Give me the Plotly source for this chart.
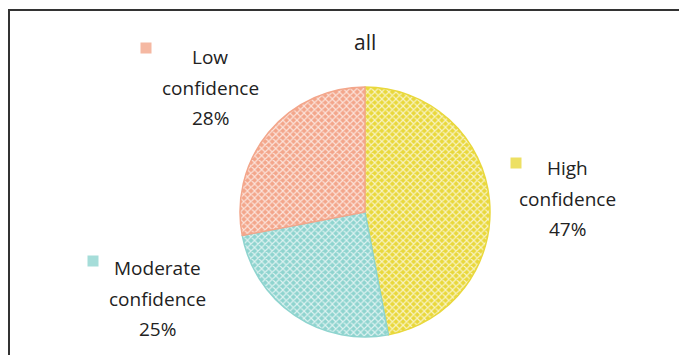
import plotly.graph_objects as go

categories = ["High confidence", "Moderate confidence", "Low confidence"]
values = [47, 25, 28]
colors = ["#E9D83C", "#8FD4CF", "#F3A68B"]
label_lines = [["High", "confidence", "47%"],
               ["Moderate", "confidence", "25%"],
               ["Low", "confidence", "28%"]]

W, H = 679, 355

fig = go.Figure(go.Pie(
    labels=categories,
    values=values,
    sort=False,
    direction="clockwise",
    rotation=0,
    textinfo="none",
    hoverinfo="label+percent",
    marker=dict(
        colors=colors,
        line=dict(color=colors, width=1.5),
        pattern=dict(shape="x", fillmode="overlay", fgcolor="white", fgopacity=0.7,
                     size=5, solidity=0.4),
    ),
    domain=dict(x=[240 / W, 490 / W], y=[1 - 337 / H, 1 - 87 / H]),
    showlegend=False,
))

# label placement (pixel anchor of each label block: center x, first line y, square x, square y)
label_pos = [(567, 168, 516, 163), (157, 268, 93, 261), (210, 57, 146, 48)]
annotations = []
shapes = []
for lines, (cx, y0, sx, sy), col in zip(label_lines, label_pos, colors):
    for i, t in enumerate(lines):
        annotations.append(dict(
            text=t, x=cx / W, y=1 - (y0 + i * 30.5) / H, xref="paper", yref="paper",
            showarrow=False, xanchor="center", yanchor="middle",
            font=dict(family="Open Sans", size=19, color="#222"),
        ))
    shapes.append(dict(type="rect", xref="paper", yref="paper",
                       x0=(sx - 5.5) / W, x1=(sx + 5.5) / W, y0=1 - (sy + 5.5) / H, y1=1 - (sy - 5.5) / H,
                       fillcolor=col, line=dict(width=0), opacity=0.8))

shapes.append(dict(type="rect", xref="paper", yref="paper",
                   x0=9 / W, x1=1.05, y0=-0.05, y1=1 - 10 / H,
                   line=dict(color="#333", width=2), fillcolor="rgba(0,0,0,0)"))

annotations.append(dict(text="all", x=365 / W, y=1 - 42 / H, xref="paper", yref="paper",
                        showarrow=False, xanchor="center", yanchor="middle",
                        font=dict(family="Open Sans", size=21, color="#222")))

fig.update_layout(
    width=W, height=H,
    margin=dict(l=0, r=0, t=0, b=0),
    paper_bgcolor="white", plot_bgcolor="white",
    annotations=annotations, shapes=shapes,
)

fig.write_html("out.html")
